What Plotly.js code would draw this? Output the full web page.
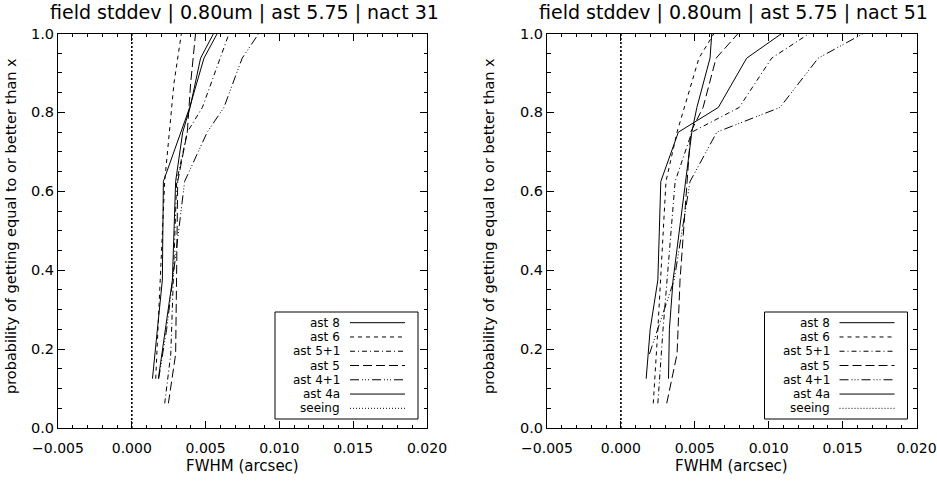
<!DOCTYPE html>
<html>
<head>
<meta charset="utf-8">
<script src="https://cdn.plot.ly/plotly-3.0.1.min.js"></script>
<style>html,body{margin:0;padding:0;background:#fff;}#chart{width:937px;height:481px;}</style>
</head>
<body>
<div id="chart"></div>
<script>
// ---------- data ----------
const seriesNames = ["ast 8", "ast 6", "ast 5+1", "ast 5", "ast 4+1", "ast 4a", "seeing"];
const panelTitles = ["field stddev | 0.80um | ast 5.75 | nact 31", "field stddev | 0.80um | ast 5.75 | nact 51"];
const xTickVals = [-0.005, 0.000, 0.005, 0.010, 0.015, 0.020];
const yTickVals = [0.0, 0.2, 0.4, 0.6, 0.8, 1.0];

// nact 31 panel
const ast8_31_x  = [0.00140, 0.00207, 0.00214, 0.00331, 0.00392, 0.00489, 0.00579];
const ast8_31_y  = [0.125, 0.375, 0.625, 0.75, 0.8125, 0.9375, 1.0];
const ast6_31_x  = [0.00162, 0.00223, 0.00286, 0.00336];
const ast6_31_y  = [0.125, 0.625, 0.875, 1.0];
const ast51_31_x = [0.00223, 0.00264, 0.00304, 0.00376, 0.00478, 0.00659];
const ast51_31_y = [0.0625, 0.1875, 0.625, 0.75, 0.8125, 1.0];
const ast5_31_x  = [0.00248, 0.00297, 0.00311, 0.00376, 0.00399, 0.00432];
const ast5_31_y  = [0.0625, 0.1875, 0.625, 0.75, 0.875, 1.0];
const ast41_31_x = [0.00182, 0.00236, 0.00277, 0.00358, 0.00511, 0.00624, 0.00748, 0.00860];
const ast41_31_y = [0.125, 0.25, 0.375, 0.625, 0.75, 0.8125, 0.9375, 1.0];
const ast4a_31_x = [0.00180, 0.00230, 0.00275, 0.00297, 0.00345, 0.00395, 0.00466, 0.00554];
const ast4a_31_y = [0.125, 0.25, 0.375, 0.625, 0.75, 0.8125, 0.9375, 1.0];
const seeing_31_x = [0.0, 0.0];
const seeing_31_y = [0.0, 1.0];

// nact 51 panel
const ast8_51_x  = [0.00171, 0.00198, 0.00250, 0.00270, 0.00389, 0.00659, 0.00851, 0.01088];
const ast8_51_y  = [0.125, 0.25, 0.375, 0.625, 0.75, 0.8125, 0.9375, 1.0];
const ast6_51_x  = [0.00219, 0.00230, 0.00250, 0.00305, 0.00380, 0.00528, 0.00630];
const ast6_51_y  = [0.0625, 0.125, 0.25, 0.625, 0.75, 0.9375, 1.0];
const ast51_51_x = [0.00250, 0.00285, 0.00367, 0.00480, 0.00800, 0.01020, 0.01274];
const ast51_51_y = [0.0625, 0.25, 0.625, 0.75, 0.8125, 0.9375, 1.0];
const ast5_51_x  = [0.00310, 0.00380, 0.00400, 0.00472, 0.00556, 0.00644, 0.00793];
const ast5_51_y  = [0.0625, 0.1875, 0.375, 0.75, 0.8125, 0.9375, 1.0];
const ast41_51_x = [0.00193, 0.00360, 0.00468, 0.00649, 0.01076, 0.01335, 0.01640];
const ast41_51_y = [0.1875, 0.375, 0.625, 0.75, 0.8125, 0.9375, 1.0];
const ast4a_51_x = [0.00322, 0.00328, 0.00353, 0.00441, 0.00480, 0.00514, 0.00603, 0.00615];
const ast4a_51_y = [0.125, 0.25, 0.375, 0.625, 0.75, 0.8125, 0.9375, 1.0];
const seeing_51_x = [0.0, 0.0];
const seeing_51_y = [0.0, 1.0];

// ---------- styles ----------
const dashes = ["solid", "4px,4px", "5px,3px,1px,3px", "9px,4px", "9px,3px,1px,2px,1px,2px,1px,3px", "solid", "1px,2px"];
const FONT = "DejaVu Sans, Liberation Sans, sans-serif";

const panels = [
  [[ast8_31_x, ast8_31_y], [ast6_31_x, ast6_31_y], [ast51_31_x, ast51_31_y], [ast5_31_x, ast5_31_y], [ast41_31_x, ast41_31_y], [ast4a_31_x, ast4a_31_y], [seeing_31_x, seeing_31_y]],
  [[ast8_51_x, ast8_51_y], [ast6_51_x, ast6_51_y], [ast51_51_x, ast51_51_y], [ast5_51_x, ast5_51_y], [ast41_51_x, ast41_51_y], [ast4a_51_x, ast4a_51_y], [seeing_51_x, seeing_51_y]]
];

const traces = [];
panels.forEach((panel, p) => {
  panel.forEach((s, i) => {
    const isSeeing = seriesNames[i] === "seeing";
    traces.push({
      type: "scatter", mode: "lines", name: seriesNames[i],
      x: s[0], y: s[1],
      xaxis: p === 0 ? "x" : "x2", yaxis: p === 0 ? "y" : "y2",
      line: {color: "black", width: isSeeing ? 1.6 : 1, dash: isSeeing ? "2px,2px" : dashes[i]},
      showlegend: false, hoverinfo: "skip"
    });
  });
});

const W = 937, H = 481;
const px = v => v / W;
const py = v => 1 - v / H;
const plotTop = 33.5, plotBot = 428;
const plotLeft = [58, 547], plotRight = [427, 916.5];

function xAxis(i) {
  return {
    domain: [px(plotLeft[i]), px(plotRight[i])], range: [-0.005, 0.020],
    anchor: i === 0 ? "y" : "y2",
    tickmode: "array", tickvals: xTickVals, tickformat: ".3f",
    ticks: "inside", ticklen: 7, tickwidth: 1, tickcolor: "black",
    ticklabelstandoff: 7, ticklabeloverflow: "allow",
    minor: {dtick: 0.001, tick0: 0, ticks: "inside", ticklen: 3.5, tickwidth: 1, tickcolor: "black", showgrid: false},
    showline: true, linecolor: "black", linewidth: 1, mirror: "allticks",
    showgrid: false, zeroline: false,
    tickfont: {family: FONT, size: 14, color: "black"}
  };
}
function yAxis(i) {
  return {
    domain: [py(plotBot), py(plotTop)], range: [0, 1],
    anchor: i === 0 ? "x" : "x2",
    tickmode: "array", tickvals: yTickVals, tickformat: ".1f",
    ticks: "inside", ticklen: 7, tickwidth: 1, tickcolor: "black",
    ticklabeloverflow: "allow",
    minor: {dtick: 0.05, tick0: 0, ticks: "inside", ticklen: 3.5, tickwidth: 1, tickcolor: "black", showgrid: false},
    showline: true, linecolor: "black", linewidth: 1, mirror: "allticks",
    showgrid: false, zeroline: false,
    tickfont: {family: FONT, size: 14.5, color: "black"}
  };
}

const annotations = [];
const shapes = [];
[0, 1].forEach(i => {
  const cx = (plotLeft[i] + plotRight[i]) / 2;
  annotations.push({xref: "paper", yref: "paper", x: px(cx + 2), y: py(13), xanchor: "center", yanchor: "middle",
    text: panelTitles[i], showarrow: false, font: {family: FONT, size: 19, color: "black"}});
  annotations.push({xref: "paper", yref: "paper", x: px(cx), y: py(466), xanchor: "center", yanchor: "middle",
    text: "FWHM (arcsec)", showarrow: false, font: {family: FONT, size: 15, color: "black"}});
  annotations.push({xref: "paper", yref: "paper", x: px(plotLeft[i] - (i === 0 ? 47 : 58)), y: py(226), xanchor: "center", yanchor: "middle",
    text: "probability of getting equal to or better than x", textangle: -90, showarrow: false,
    font: {family: FONT, size: 14.5, color: "black"}});

  // custom legend (text then line sample, IDL style)
  const bx1 = plotRight[i] - 9, bx0 = bx1 - 143;
  shapes.push({type: "rect", xref: "paper", yref: "paper", x0: px(bx0), x1: px(bx1), y0: py(419), y1: py(312),
    line: {color: "black", width: 1}, fillcolor: "white", layer: "above"});
  seriesNames.forEach((n, k) => {
    const yy = 322.7 + k * 14.27;
    annotations.push({xref: "paper", yref: "paper", x: px(bx0 + 66), y: py(yy), xanchor: "right", yanchor: "middle",
      text: n, showarrow: false, borderpad: 0, font: {family: FONT, size: 12, color: "black"}});
    shapes.push({type: "line", xref: "paper", yref: "paper", x0: px(bx0 + 75), x1: px(bx0 + 130), y0: py(yy), y1: py(yy),
      line: {color: "black", width: 1, dash: dashes[k]}, layer: "above"});
  });
});

const layout = {
  width: W, height: H,
  margin: {l: 0, r: 0, t: 0, b: 0},
  paper_bgcolor: "white", plot_bgcolor: "white",
  showlegend: false,
  xaxis: xAxis(0), yaxis: yAxis(0),
  xaxis2: xAxis(1), yaxis2: yAxis(1),
  annotations: annotations, shapes: shapes,
  font: {family: FONT, color: "black"}
};

Plotly.newPlot("chart", traces, layout, {staticPlot: true, displayModeBar: false});
</script>
</body>
</html>
